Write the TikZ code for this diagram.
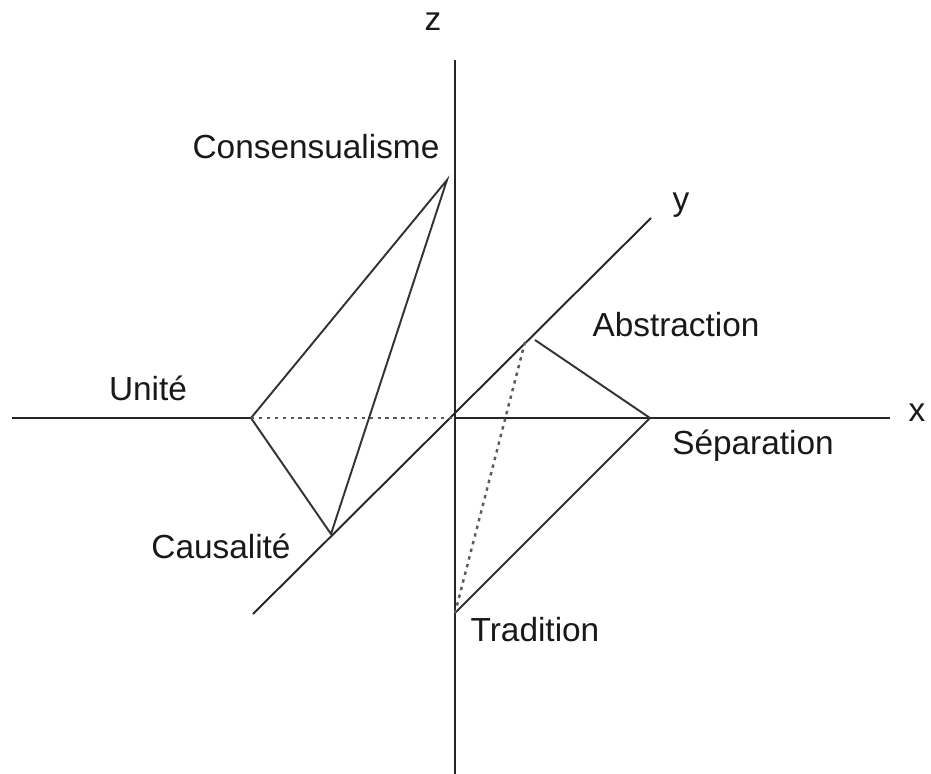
\documentclass[tikz,border=0pt]{standalone}
\usepackage{fontspec}
\setmainfont{Liberation Sans}
\usetikzlibrary{positioning, calc}
\tikzset{
  axis/.style={line width=1.1pt, draw=black!85},
  edge/.style={line width=1.1pt, draw=black!80},
  hidden/.style={line width=1.4pt, draw=black!65, dash pattern=on 1.9pt off 2.6pt},
  lbl/.style={font=\fontsize{19}{23}\selectfont, inner sep=0pt, text=black!90},
}
\begin{document}
\begin{tikzpicture}[x=0.02cm, y=-0.02cm]
\useasboundingbox (0,0) rectangle (931,774);
% points
\coordinate (o) at (455,418);
\coordinate (xl) at (12,418);
\coordinate (xr) at (890,418);
\coordinate (zt) at (455,60);
\coordinate (zb) at (455,774);
\coordinate (yb) at (253,614);
\coordinate (yt) at (651,218);
\coordinate (cons) at (447,180);
\coordinate (unite) at (251,418);
\coordinate (caus) at (331,534);
\coordinate (abs) at (525,342);
\coordinate (abs2) at (535,340);
\coordinate (sep) at (650,418);
\coordinate (trad) at (455,613);
% axes
\draw[axis] (xl) -- (unite);
\draw[axis] (o) -- (xr);
\draw[axis] (zt) -- (zb);
\draw[axis] (yb) -- (yt);
\node[lbl] (xlab) at (917,413) {x};
\node[lbl] (ylab) at (681,205) {y};
\node[lbl] (zlab) at (433,22) {z};
% left figure
\draw[edge] (unite) -- (cons) -- (caus) -- cycle;
\draw[hidden] (unite) -- (o);
% right figure
\draw[edge] (abs2) -- (sep) -- (trad);
\draw[hidden] (abs) -- (trad);
% labels
\node[lbl] (lcons) at (316,147) {Consensualisme};
\node[lbl] (lunite) at (148,388) {Unité};
\node[lbl] (lcaus) at (221,546) {Causalité};
\node[lbl] (labs) at (676,325) {Abstraction};
\node[lbl] (lsep) at (753,446) {Séparation};
\node[lbl] (ltrad) at (535,630) {Tradition};
\end{tikzpicture}
\end{document}
